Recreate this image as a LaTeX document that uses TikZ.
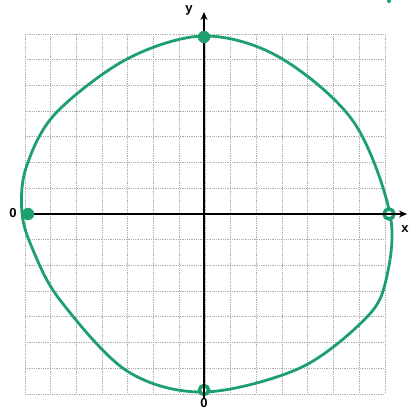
\documentclass[tikz,border=0pt]{standalone}
\usepackage{fontspec}
\setmainfont{Liberation Sans}
\usetikzlibrary{arrows.meta}
\definecolor{curvegreen}{RGB}{30,160,110}
\tikzset{
  gridline/.style={gray!65, densely dotted, line width=0.8pt},
  axis/.style={black, line width=1.5pt, -{Stealth[length=8pt,width=7pt]}},
  curve/.style={curvegreen, line width=2.8pt, line join=round},
  lbl/.style={font=\fontsize{13}{13}\selectfont\bfseries, inner sep=0pt},
  dotfill/.style={fill=curvegreen, draw=curvegreen},
  ring/.style={draw=curvegreen, line width=3.5pt, fill=white}
}
\begin{document}
\begin{tikzpicture}[x=1pt,y=-1pt]
\useasboundingbox (0,0) rectangle (409,411);
\fill[white] (0,0) rectangle (409,411);
% grid
\foreach \i in {0,...,14}{
  \draw[gridline] ({25+\i*25.714},34) -- ({25+\i*25.714},394);
  \draw[gridline] (25,{34+\i*25.714}) -- (385,{34+\i*25.714});
}
% curve
\draw[curve] plot[smooth cycle, tension=0.55] coordinates {
 (204,36) (279,57) (353,121) (390,214) (386,280) (366,318) (300,368)
 (204,392) (127,371) (60,300) (33,250) (22,213) (26,168) (55,114) (127,59)};
% axes
\coordinate (xs) at (22,214);
\coordinate (xe) at (407,214);
\coordinate (ys) at (204,398);
\coordinate (ye) at (204,12);
\draw[axis] (xs) -- (xe);
\draw[axis] (ys) -- (ye);
% intercept marks
\node[dotfill, circle, minimum size=12pt, inner sep=0pt] (top) at (204,37) {};
\node[dotfill, circle, minimum size=12pt, inner sep=0pt] (left) at (28,214) {};
\node[ring, circle, minimum size=10pt, inner sep=0pt] (right) at (389,214) {};
\node[ring, circle, minimum size=9pt, inner sep=0pt] (bottom) at (204,390) {};
\draw[black, line width=1.2pt] (right.west) -- (right.east);
\draw[black, line width=1.2pt] (bottom.north) -- (bottom.south);
% labels
\node[lbl] (ylab) at (189,10) {y};
\node[lbl] (xlab) at (405,229) {x};
\node[lbl] (zl) at (13,213) {0};
\node[lbl] (zb) at (204,403) {0};
\fill[curvegreen] (389,1) circle (2);
\end{tikzpicture}
\end{document}
